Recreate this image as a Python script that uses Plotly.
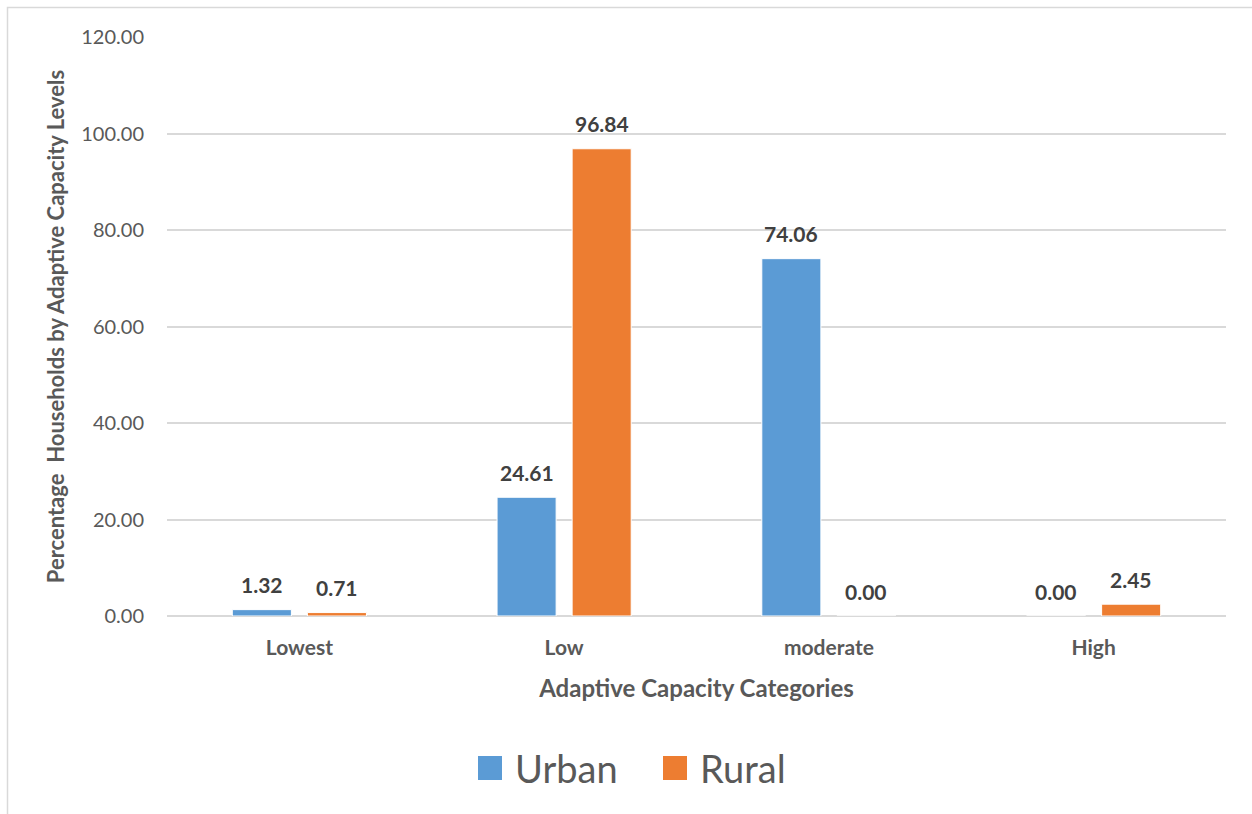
import plotly.graph_objects as go

# Household shares (%) by adaptive capacity category
categories = ["Lowest", "Low", "moderate", "High"]
urban = [1.32, 24.61, 74.06, 0.00]
rural = [0.71, 96.84, 0.00, 2.45]
series_names = ["Urban", "Rural"]
series_colors = ["#5B9BD5", "#ED7D31"]
y_ticks = [0, 20, 40, 60, 80, 100, 120]

FONT = "Lato"
W, H = 1252, 814
L, R, T, B = 167, 26, 37, 198
plot_w = W - L - R
plot_h = H - T - B

fig = go.Figure()
for name, vals, col in zip(series_names, [urban, rural], series_colors):
    fig.add_trace(go.Bar(
        x=categories, y=vals, name=name,
        marker=dict(color=col, line=dict(color="white", width=1)),
        showlegend=False, hoverinfo="x+y+name",
    ))

# value labels above each bar, offset to each bar's slot in the group
bargap = 0.433
bargroupgap = 0.213
cat_w = plot_w / len(categories)
slot = (1 - bargap) * cat_w / 2
annotations = []
for k, vals in enumerate([urban, rural]):
    shift = (-0.5 + k) * slot
    for c, v in zip(categories, vals):
        annotations.append(dict(
            x=c, y=v, xref="x", yref="y", text=f"{v:.2f}", showarrow=False,
            xshift=shift, yshift=25, yanchor="middle",
            font=dict(family=FONT, size=21, color="#404040", weight="bold"),
        ))

# legend: coloured squares with series names below the axis title
def px_x(p):
    return (p - L) / plot_w

def px_y(p):
    return (H - B - p) / plot_h

shapes = []
legend_items = [(478, 515), (663, 700)]
for (sq_x, tx_x), name, col in zip(legend_items, series_names, series_colors):
    shapes.append(dict(
        type="rect", xref="paper", yref="paper",
        x0=px_x(sq_x), x1=px_x(sq_x + 24), y0=px_y(780), y1=px_y(756),
        fillcolor=col, line=dict(width=0),
    ))
    annotations.append(dict(
        x=px_x(tx_x - 2), y=px_y(768), xref="paper", yref="paper",
        text=name, showarrow=False, xanchor="left", yanchor="middle",
        font=dict(family=FONT, size=38, color="#595959"),
    ))

# outer chart frame
shapes.append(dict(
    type="rect", xref="paper", yref="paper",
    x0=px_x(7.5), x1=px_x(W + 20), y0=px_y(H + 20), y1=px_y(7.5),
    line=dict(color="#D9D9D9", width=1.5), fillcolor="rgba(0,0,0,0)", layer="below",
))

fig.update_layout(
    width=W, height=H,
    margin=dict(l=L, r=R, t=T, b=B, pad=0),
    paper_bgcolor="white", plot_bgcolor="white",
    barmode="group", bargap=bargap, bargroupgap=bargroupgap,
    font=dict(family=FONT, color="#595959"),
    annotations=annotations, shapes=shapes,
    xaxis=dict(
        showgrid=False, showline=False, ticks="",
        tickfont=dict(family=FONT, size=21, color="#595959", weight="bold"),
        ticklabelstandoff=17,
        title=dict(text="Adaptive Capacity Categories", standoff=22,
                   font=dict(family=FONT, size=24, color="#595959", weight="bold")),
    ),
    yaxis=dict(
        range=[0, 120], tickvals=y_ticks, tickformat=".2f",
        showgrid=True, gridcolor="#D9D9D9", gridwidth=1.5,
        zeroline=True, zerolinecolor="#D9D9D9", zerolinewidth=1.5,
        showline=False, ticks="", ticklabelstandoff=22,
        tickfont=dict(family=FONT, size=20, color="#595959"),
        title=dict(text="Percentage\u00a0 Households by Adaptive Capacity Levels", standoff=10,
                   font=dict(family=FONT, size=22, color="#595959", weight="bold")),
    ),
)

fig.write_html("out.html")
